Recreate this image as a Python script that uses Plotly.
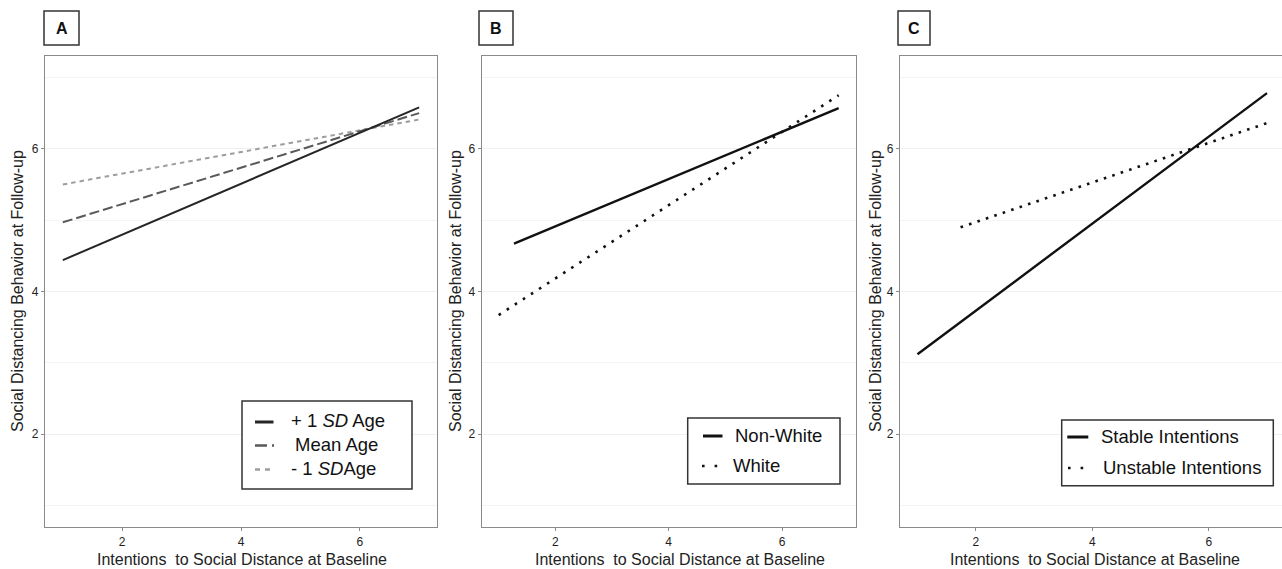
import plotly.graph_objects as go

W, H = 1282, 569
FONT = "Liberation Sans, Arial, sans-serif"

# ---------------- data ----------------
x_ticks = [2, 4, 6]
y_ticks = [2, 4, 6]
y_minor = [1, 3, 5, 7]

# Panel A (age moderation)
a_x = [1, 7]
a_plus_sd = [4.44, 6.58]
a_mean = [4.97, 6.50]
a_minus_sd = [5.50, 6.41]

# Panel B (race moderation)
b_x_nonwhite = [1.27, 7]
b_nonwhite = [4.67, 6.57]
b_x_white = [1, 7]
b_white = [3.67, 6.75]

# Panel C (intention stability)
c_x_stable = [1, 7]
c_stable = [3.12, 6.78]
c_x_unstable = [1.74, 7]
c_unstable = [4.90, 6.36]

panel_labels = ["A", "B", "C"]
x_title = "Intentions  to Social Distance at Baseline"
y_title = "Social Distancing Behavior at Follow-up"
legend_a = ["+ 1 <i>SD</i> Age", "Mean Age", "- 1 <i>SD</i>Age"]
legend_b = ["Non-White", "White"]
legend_c = ["Stable Intentions", "Unstable Intentions"]


def px(x):
    return x / W


def py(y):
    return 1 - y / H


fig = go.Figure()

# ---------------- traces ----------------
fig.add_trace(go.Scatter(x=a_x, y=a_minus_sd, mode="lines", xaxis="x", yaxis="y",
                         line=dict(color="#9d9d9d", width=2, dash="4.5px,4px"), showlegend=False))
fig.add_trace(go.Scatter(x=a_x, y=a_mean, mode="lines", xaxis="x", yaxis="y",
                         line=dict(color="#595959", width=2, dash="10px,4px"), showlegend=False))
fig.add_trace(go.Scatter(x=a_x, y=a_plus_sd, mode="lines", xaxis="x", yaxis="y",
                         line=dict(color="#262626", width=2), showlegend=False))

fig.add_trace(go.Scatter(x=b_x_white, y=b_white, mode="lines", xaxis="x2", yaxis="y2",
                         line=dict(color="#111111", width=2.6, dash="2.6px,7px"), showlegend=False))
fig.add_trace(go.Scatter(x=b_x_nonwhite, y=b_nonwhite, mode="lines", xaxis="x2", yaxis="y2",
                         line=dict(color="#111111", width=2.4), showlegend=False))

fig.add_trace(go.Scatter(x=c_x_unstable, y=c_unstable, mode="lines", xaxis="x3", yaxis="y3",
                         line=dict(color="#111111", width=2.6, dash="2.6px,6.3px"), showlegend=False))
fig.add_trace(go.Scatter(x=c_x_stable, y=c_stable, mode="lines", xaxis="x3", yaxis="y3",
                         line=dict(color="#111111", width=2.4), showlegend=False))

# ---------------- axes ----------------
y_dom = [py(527), py(56)]
panels = [
    dict(xd=[px(45), px(437)], xr=[0.7, 7.3], mirror_y=True),
    dict(xd=[px(481.7), px(855.7)], xr=[0.7, 7.3], mirror_y=True),
    dict(xd=[px(900), 1.0], xr=[0.7, 0.7 + (W - 900) / 58.25], mirror_y=False),
]
BORDER = "#8a8a8a"
for i, p in enumerate(panels):
    sfx = "" if i == 0 else str(i + 1)
    xa = dict(domain=p["xd"], range=p["xr"], tickvals=x_ticks, showgrid=False, zeroline=False,
              showline=True, mirror=True, linecolor=BORDER, linewidth=1.3,
              ticks="outside", ticklen=3, tickcolor=BORDER, tickwidth=1,
              tickfont=dict(family=FONT, size=12, color="#1e1e1e"),
              anchor="y" + sfx, fixedrange=True)
    ya = dict(domain=y_dom, range=[0.7, 7.3], tickvals=y_ticks, showgrid=True,
              gridcolor="#efefef", gridwidth=1, zeroline=False,
              minor=dict(tickvals=y_minor, showgrid=True, gridcolor="#f4f4f4", gridwidth=1, ticks=""),
              showline=True, mirror=p["mirror_y"], linecolor=BORDER, linewidth=1.3,
              ticks="outside", ticklen=3, tickcolor=BORDER, tickwidth=1,
              tickfont=dict(family=FONT, size=12, color="#1e1e1e"),
              anchor="x" + sfx, fixedrange=True)
    fig.layout["xaxis" + sfx] = xa
    fig.layout["yaxis" + sfx] = ya

annotations = []
shapes = []

# axis titles
for cx in [242, 680, 1095]:
    annotations.append(dict(x=px(cx), y=py(559), xref="paper", yref="paper", text=x_title,
                            showarrow=False, xanchor="center", yanchor="middle",
                            font=dict(family=FONT, size=16, color="#222222")))
for cx in [17, 455, 875]:
    annotations.append(dict(x=px(cx), y=py(291), xref="paper", yref="paper", text=y_title,
                            textangle=-90, showarrow=False, xanchor="center", yanchor="middle",
                            font=dict(family=FONT, size=16, color="#222222")))

# panel labels in boxes
for lab, (x0, x1) in zip(panel_labels, [(44, 79), (479, 513), (898, 930)]):
    shapes.append(dict(type="rect", xref="paper", yref="paper", x0=px(x0), x1=px(x1),
                       y0=py(45), y1=py(11), line=dict(color="#333333", width=1.5),
                       fillcolor="white"))
    annotations.append(dict(x=px((x0 + x1) / 2), y=py(28.5), xref="paper", yref="paper",
                            text="<b>%s</b>" % lab, showarrow=False, xanchor="center",
                            yanchor="middle", font=dict(family=FONT, size=16, color="#111111")))

# ---------------- legends (drawn manually) ----------------
def legend_box(x0, x1, y0, y1):
    shapes.append(dict(type="rect", xref="paper", yref="paper", x0=px(x0), x1=px(x1),
                       y0=py(y1), y1=py(y0), line=dict(color="#333333", width=1.5),
                       fillcolor="white", layer="above"))


def legend_sample(x0, x1, y, color, width, dash="solid"):
    shapes.append(dict(type="line", xref="paper", yref="paper", x0=px(x0), x1=px(x1),
                       y0=py(y), y1=py(y), line=dict(color=color, width=width, dash=dash),
                       layer="above"))


def legend_text(x, y, text):
    annotations.append(dict(x=px(x), y=py(y), xref="paper", yref="paper", text=text,
                            showarrow=False, xanchor="left", yanchor="middle",
                            font=dict(family=FONT, size=18.5, color="#111111")))


# A
legend_box(242, 412, 401, 489)
legend_sample(255, 273.5, 422, "#262626", 3)
legend_sample(255, 274, 445.5, "#595959", 2.5, "12px,5px")
legend_sample(255, 272, 469.5, "#9d9d9d", 2.5, "5px,5px")
legend_text(289, 420.7, legend_a[0])
legend_text(292.5, 444, legend_a[1])
legend_text(289, 468.3, legend_a[2])

# B
legend_box(687.7, 840, 418, 484)
legend_sample(703, 722.5, 436, "#111111", 3)
legend_sample(702, 720, 466, "#111111", 2.6, "2.6px,10px")
legend_text(732.5, 435, legend_b[0])
legend_text(731, 465, legend_b[1])

# C
legend_box(1061.7, 1273.3, 420, 485.7)
legend_sample(1067.3, 1088.3, 437, "#111111", 3)
legend_sample(1068, 1086, 468, "#111111", 2.6, "2.6px,10px")
legend_text(1099, 436, legend_c[0])
legend_text(1101, 467.7, legend_c[1])

fig.update_layout(
    width=W, height=H,
    margin=dict(l=0, r=0, t=0, b=0, autoexpand=False),
    paper_bgcolor="white", plot_bgcolor="white",
    showlegend=False,
    annotations=annotations, shapes=shapes,
    font=dict(family=FONT),
)

fig.write_html("out.html", config={"displayModeBar": False},
               post_script="document.body.style.margin='0';document.body.style.overflow='hidden';")
